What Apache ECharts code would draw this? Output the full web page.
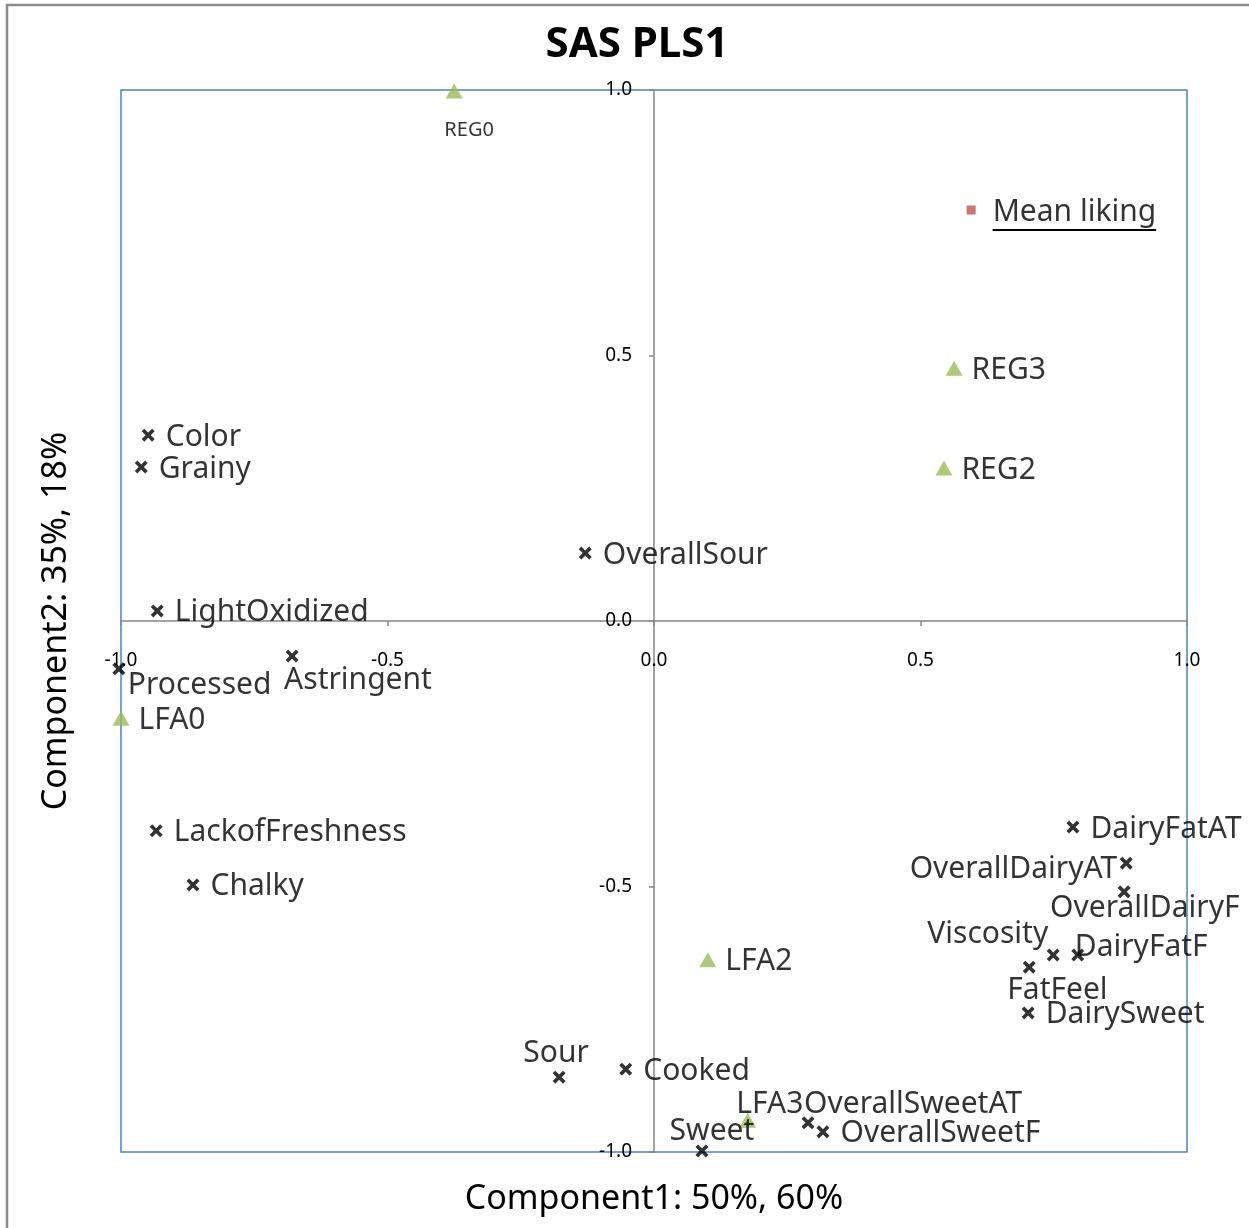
<!DOCTYPE html>
<html>
<head>
<meta charset="utf-8">
<script src="https://cdn.jsdelivr.net/npm/echarts@6/dist/echarts.min.js"></script>
<style>
  html, body { margin: 0; padding: 0; background: #fff; }
  #chart { width: 1249px; height: 1228px; }
</style>
</head>
<body>
<div id="chart"></div>
<script>
// sensory attributes (x markers)
const attrNames = ['Color', 'Grainy', 'OverallSour', 'LightOxidized', 'Processed', 'Astringent',
  'LackofFreshness', 'Chalky', 'Sour', 'Cooked', 'Sweet', 'OverallSweetAT', 'OverallSweetF',
  'DairyFatAT', 'OverallDairyAT', 'OverallDairyF', 'Viscosity', 'DairyFatF', 'FatFeel', 'DairySweet'];
const attrX = [-0.949, -0.962, -0.129, -0.932, -1.004, -0.679, -0.934, -0.865, -0.178, -0.053,
  0.090, 0.289, 0.317, 0.786, 0.886, 0.882, 0.749, 0.795, 0.704, 0.702];
const attrY = [0.350, 0.290, 0.128, 0.019, -0.090, -0.066, -0.395, -0.497, -0.859, -0.844,
  -0.998, -0.945, -0.962, -0.388, -0.456, -0.510, -0.629, -0.629, -0.652, -0.738];

// samples (green triangles)
const sampleNames = ['REG0', 'REG3', 'REG2', 'LFA0', 'LFA2', 'LFA3'];
const sampleX = [-0.375, 0.563, 0.544, -1.0, 0.101, 0.176];
const sampleY = [0.998, 0.476, 0.288, -0.183, -0.638, -0.940];

// response
const likingNames = ['Mean liking'];
const likingX = [0.595];
const likingY = [0.774];

const axisTicks = [-1.0, -0.5, 0.0, 0.5, 1.0];

const FONT = 'Noto Sans';
const W = 1249, H = 1228;
const GRID = {left: 121, right: 62, top: 90, bottom: 76};

// labels that are not simply to the right of their marker
const labelPlace = {
  Processed: {align: 'left', offset: [9, 17]},
  Astringent: {align: 'left', offset: [-8, 24]},
  Sour: {align: 'center', offset: [-3, -24]},
  Sweet: {align: 'center', offset: [10, -19]},
  LFA3: {align: 'center', offset: [22, -16]},
  OverallSweetAT: {align: 'left', offset: [-4, -18]},
  OverallDairyAT: {align: 'right', offset: [-9, 6]},
  OverallDairyF: {align: 'left', offset: [-74, 17]},
  Viscosity: {align: 'right', offset: [-5, -21]},
  DairyFatF: {align: 'left', offset: [-3, -8]},
  FatFeel: {align: 'left', offset: [-22, 23]},
  REG0: {align: 'center', offset: [15, 39], fontSize: 20}
};

function buildData(names, xs, ys) {
  return names.map((n, i) => {
    let item = {name: n, value: [xs[i], ys[i]]};
    let p = labelPlace[n];
    if (p) {
      item.label = {
        position: 'inside',
        align: p.align,
        verticalAlign: 'middle',
        offset: p.offset
      };
      if (p.fontSize) item.label.fontSize = p.fontSize;
    }
    return item;
  });
}

const crossPath = 'path://M0,2L2,0L5,3L8,0L10,2L7,5L10,8L8,10L5,7L2,10L0,8L3,5Z';

const baseLabel = {
  show: true,
  formatter: '{b}',
  color: '#000',
  fontFamily: FONT,
  fontSize: 30,
  position: 'right',
  offset: [0, 2]
};

// axes sit on the zero lines, so shift them into the middle of the grid
function valueAxis(name, gap, isX) {
  let shift = isX ? -(H - GRID.top - GRID.bottom) / 2 : -(W - GRID.left - GRID.right) / 2;
  return {
    type: 'value',
    min: axisTicks[0],
    max: axisTicks[axisTicks.length - 1],
    interval: axisTicks[1] - axisTicks[0],
    offset: shift,
    name: name,
    nameLocation: 'middle',
    nameGap: gap,
    nameTextStyle: {fontFamily: FONT, fontSize: 34, color: '#000'},
    axisLine: {onZero: false, lineStyle: {color: '#868686', width: 1.5}},
    axisTick: {show: true, length: 5, lineStyle: {color: '#868686', width: 1.5}},
    axisLabel: {
      fontFamily: FONT,
      fontSize: 19,
      color: '#000',
      margin: isX ? 30 : 22,
      formatter: v => v.toFixed(1)
    },
    splitLine: {show: false}
  };
}

const chart = echarts.init(document.getElementById('chart'));
chart.setOption({
  animation: false,
  backgroundColor: '#fff',
  title: {
    text: 'SAS PLS1',
    left: 632,
    top: 19,
    textAlign: 'center',
    textStyle: {fontFamily: FONT, fontSize: 42, fontWeight: 'bold', color: '#000'}
  },
  grid: Object.assign({
    outerBoundsMode: 'none',
    containLabel: false,
    show: true,
    borderColor: '#4F81BD',
    borderWidth: 1.5,
    backgroundColor: 'transparent'
  }, GRID),
  xAxis: valueAxis('Component1: 50%, 60%', 561, true),
  yAxis: valueAxis('Component2: 35%, 18%', 581, false),
  graphic: [{
    id: 'frame',
    type: 'rect',
    shape: {x: 7, y: 5, width: 1400, height: 1400},
    style: {fill: 'none', stroke: '#8c8c8c', lineWidth: 2.5},
    silent: true
  }],
  series: [
    {
      name: 'Attributes',
      type: 'scatter',
      clip: false,
      symbol: crossPath,
      symbolSize: 13,
      itemStyle: {color: '#000'},
      label: Object.assign({}, baseLabel, {distance: 11}),
      data: buildData(attrNames, attrX, attrY)
    },
    {
      name: 'Samples',
      type: 'scatter',
      clip: false,
      symbol: 'triangle',
      symbolSize: [17, 15],
      itemStyle: {color: '#9BBB59'},
      label: Object.assign({}, baseLabel, {distance: 9}),
      data: buildData(sampleNames, sampleX, sampleY)
    },
    {
      name: 'Liking',
      type: 'scatter',
      clip: false,
      symbol: 'rect',
      symbolSize: 9,
      itemStyle: {color: '#C0504D'},
      label: Object.assign({}, baseLabel, {distance: 17}),
      data: buildData(likingNames, likingX, likingY)
    }
  ]
});

// underline under the "Mean liking" label
let pt = chart.convertToPixel({seriesIndex: 2}, [likingX[0], likingY[0]]);
let ctx = document.createElement('canvas').getContext('2d');
ctx.font = '30px "' + FONT + '"';
let w = ctx.measureText(likingNames[0]).width;
let x0 = pt[0] + 4.5 + 17;
chart.setOption({
  graphic: [{
    id: 'underline',
    type: 'line',
    shape: {x1: x0, y1: pt[1] + 20, x2: x0 + w, y2: pt[1] + 20},
    style: {stroke: '#000', lineWidth: 2},
    silent: true
  }]
});
</script>
</body>
</html>
